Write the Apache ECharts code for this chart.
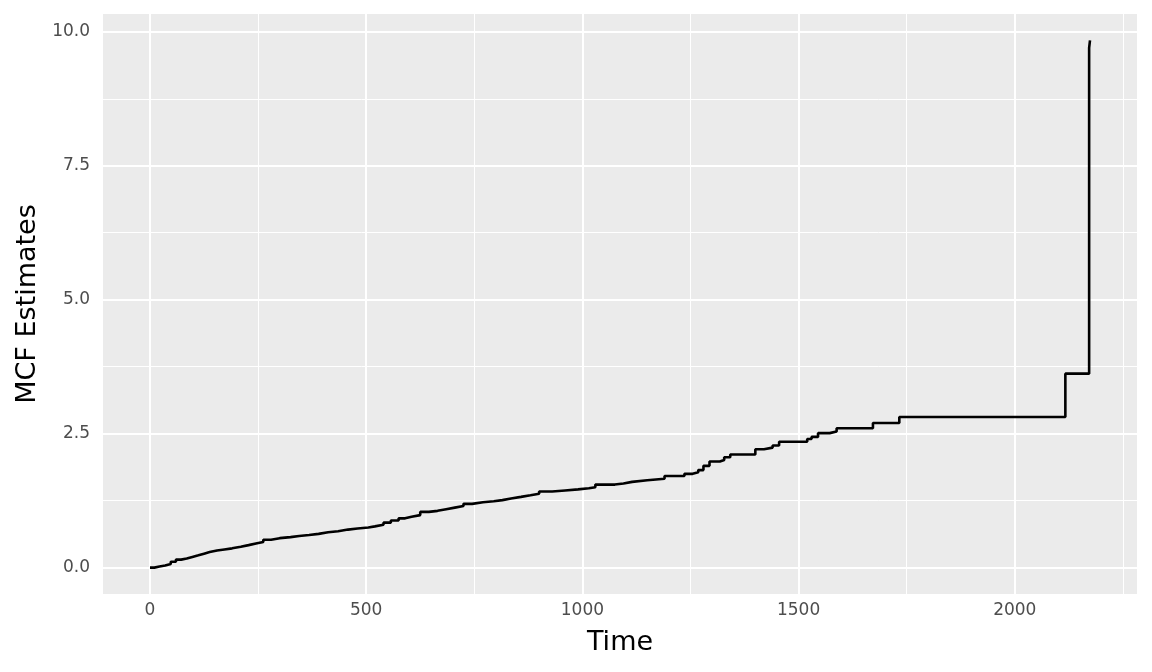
<!DOCTYPE html>
<html>
<head>
<meta charset="utf-8">
<script src="https://cdn.jsdelivr.net/npm/echarts@6/dist/echarts.min.js"></script>
<style>html,body{margin:0;padding:0;background:#fff;}#c{width:1152px;height:672px;}</style>
</head>
<body>
<div id="c"></div>
<script>
// Step times (start of each step) and MCF value from that time on
const times = [0,10,22,35,48,60,72,85,98,112,125,138,155,172,190,210,228,245,262,280,300,325,345,368,390,412,435,458,480,505,520,540,557,575,590,605,625,645,665,685,705,725,745,770,795,815,835,858,880,900,930,960,990,1015,1030,1075,1095,1115,1150,1190,1236,1255,1268,1280,1294,1318,1328,1342,1400,1420,1440,1455,1520,1530,1545,1572,1588,1672,1733,2117,2172,2174];
const mcf = [0,0.02,0.04,0.07,0.11,0.15,0.17,0.20,0.23,0.26,0.29,0.32,0.34,0.36,0.39,0.42,0.45,0.48,0.52,0.55,0.57,0.59,0.61,0.63,0.66,0.68,0.71,0.73,0.75,0.77,0.80,0.84,0.88,0.92,0.95,0.98,1.04,1.06,1.09,1.12,1.15,1.19,1.22,1.24,1.26,1.29,1.32,1.35,1.38,1.42,1.44,1.46,1.48,1.50,1.55,1.57,1.60,1.63,1.66,1.71,1.75,1.78,1.82,1.90,1.98,2.01,2.06,2.11,2.21,2.24,2.28,2.35,2.40,2.44,2.51,2.54,2.60,2.70,2.81,3.62,9.70,9.84];
const xMajor = [0,500,1000,1500,2000];
const xMinor = [250,750,1250,1750,2250];
const yMajor = [0,2.5,5,7.5,10];
const yMinor = [1.25,3.75,6.25,8.75];

const xMin = -108.7, xMax = 2282.7, yMin = -0.492, yMax = 10.332;

const data = times.map((t,i)=>[t,mcf[i]]);
const gridLines = [];
xMinor.forEach(v=>gridLines.push({xAxis:v,lineStyle:{color:'#fff',width:1,type:'solid'}}));
yMinor.forEach(v=>gridLines.push({yAxis:v,lineStyle:{color:'#fff',width:1,type:'solid'}}));
xMajor.forEach(v=>gridLines.push({xAxis:v,lineStyle:{color:'#fff',width:2,type:'solid'}}));
yMajor.forEach(v=>gridLines.push({yAxis:v,lineStyle:{color:'#fff',width:2,type:'solid'}}));

const chart = echarts.init(document.getElementById('c'), null, {renderer:'canvas'});
chart.setOption({
  animation:false,
  backgroundColor:'#fff',
  grid:{left:103,right:15,top:14,bottom:78,show:true,backgroundColor:'#EBEBEB',borderWidth:0},
  xAxis:{type:'value',min:xMin,max:xMax,
    name:'Time',nameLocation:'middle',nameGap:35,
    nameTextStyle:{color:'#000',fontSize:27,fontFamily:'DejaVu Sans'},
    axisLine:{show:false},splitLine:{show:false},
    axisTick:{show:true,customValues:xMajor,length:5,lineStyle:{color:'#333',width:2}},
    axisLabel:{customValues:xMajor,color:'#4D4D4D',fontSize:17,fontFamily:'DejaVu Sans',margin:8,
      formatter:v=>String(Math.round(v))}
  },
  yAxis:{type:'value',min:yMin,max:yMax,
    name:'MCF Estimates',nameLocation:'middle',nameGap:62,
    nameTextStyle:{color:'#000',fontSize:27,fontFamily:'DejaVu Sans'},
    axisLine:{show:false},splitLine:{show:false},
    axisTick:{show:true,customValues:yMajor,length:5,lineStyle:{color:'#333',width:2}},
    axisLabel:{customValues:yMajor,color:'#4D4D4D',fontSize:17,fontFamily:'DejaVu Sans',margin:13,
      formatter:v=>Number(v).toFixed(1)}
  },
  series:[
    {type:'line',data:[],silent:true,z:1,
     markLine:{silent:true,symbol:['none','none'],label:{show:false},animation:false,data:gridLines}},
    {type:'line',data:data,step:'end',showSymbol:false,symbol:'none',z:5,
     lineStyle:{color:'#000',width:2.6}}
  ]
});
</script>
</body>
</html>
